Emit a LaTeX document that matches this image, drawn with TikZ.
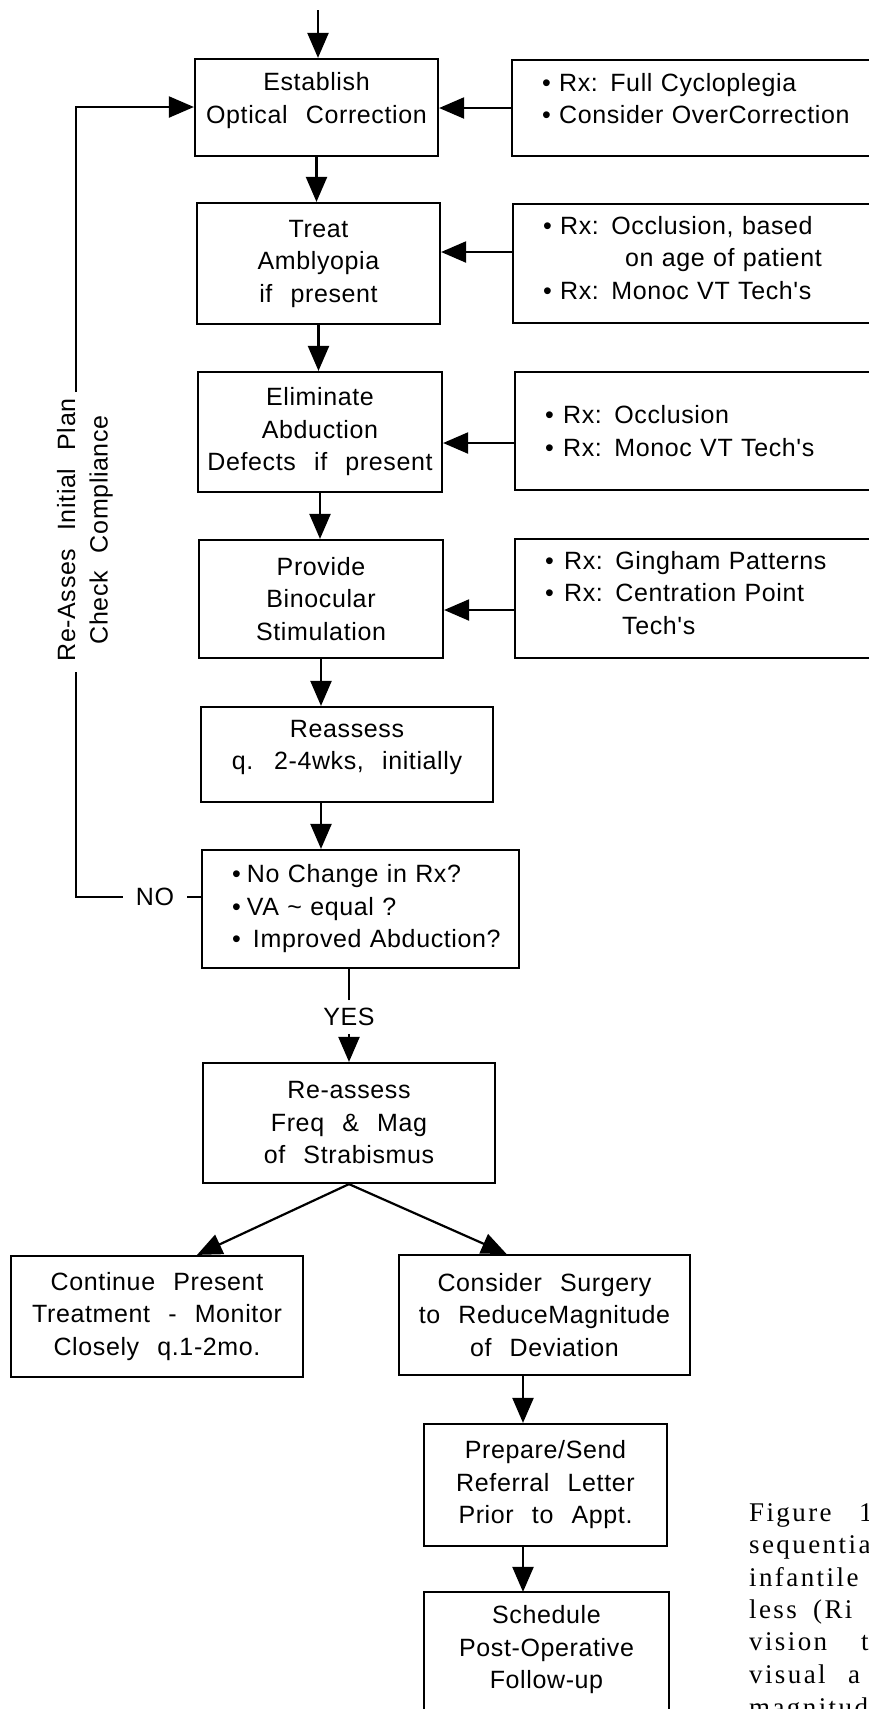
\documentclass[tikz,border=0pt]{standalone}
\usepackage{fontspec}
\usetikzlibrary{arrows.meta,calc}
\newfontfamily\boxfont[LetterSpace=2.5,WordSpace=2.4]{Liberation Sans}
\newfontfamily\capfont[LetterSpace=9]{Liberation Serif}
\newcommand{\bl}[1]{\makebox[#1][l]{•}}
\begin{document}
\begin{tikzpicture}[x=1pt,y=-1pt,line width=2.2pt,
  arr/.style={-{Triangle[length=25pt,width=21pt]}},
  bfont/.style={font=\boxfont\fontsize{25}{32.5}\selectfont},
  box/.style={draw,bfont,inner sep=0pt,align=center},
  liftby/.style={text depth=#1},
  rbox/.style={draw,bfont,inner sep=0pt,align=left,text width=420pt,anchor=west},
  lbl/.style={bfont,inner sep=0pt},
  captext/.style={font=\capfont\fontsize{27}{32}\selectfont,inner sep=0pt,anchor=base west}]
\fill[white] (0,0) rectangle (869,1709);
\useasboundingbox (0,0) rectangle (869,1709);

% main column
\node[box,liftby=19pt,minimum width=243pt,minimum height=97pt] (est) at (316.5,107.5) {Establish\\Optical Correction};
\node[box,minimum width=243pt,minimum height=121pt] (treat) at (318.5,263.5) {Treat\\Amblyopia\\if present};
\node[box,minimum width=244pt,minimum height=120pt] (elim) at (320,432) {Eliminate\\Abduction\\Defects if present};
\node[box,minimum width=244pt,minimum height=118pt] (prov) at (321,599) {Provide\\Binocular\\Stimulation};
\node[box,liftby=19pt,minimum width=292pt,minimum height=95pt] (reas) at (347,754.5) {Reassess\\q. 2-4wks, initially};
\node[draw,bfont,inner sep=0pt,align=left,text width=317pt,minimum height=118pt] (dec) at (360.5,909)
  {\hspace*{30pt}\bl{15pt}No Change in Rx?\\\hspace*{30pt}\bl{15pt}VA \textasciitilde{} equal ?\\\hspace*{30pt}\bl{21pt}Improved Abduction?};
\node[box,minimum width=292pt,minimum height=120pt] (reas2) at (349,1123) {Re-assess\\Freq \& Mag\\of Strabismus};
\node[box,minimum width=292pt,minimum height=121pt] (cont) at (157,1316.5) {Continue Present\\Treatment - Monitor\\Closely q.1-2mo.};
\node[box,minimum width=291pt,minimum height=120pt] (surg) at (544.5,1315) {Consider Surgery\\to ReduceMagnitude\\of Deviation};
\node[box,minimum width=243pt,minimum height=122pt] (prep) at (545.5,1485) {Prepare/Send\\Referral Letter\\Prior to Appt.};
\node[bfont,inner sep=0pt,align=center,minimum width=243pt,minimum height=114pt] (sched) at (546.5,1650) {Schedule\\Post-Operative\\Follow-up};
\draw (sched.north west) ++(0,140) -- (sched.north west) -- (sched.north east) -- ++(0,140);

% right boxes
\node[rbox,liftby=51.5pt,minimum height=96pt] (rx1) at (511,108)
  {\hspace*{30pt}\bl{17pt}Rx: Full Cycloplegia\\\hspace*{30pt}\bl{17pt}Consider OverCorrection};
\node[rbox,liftby=77pt,minimum height=119pt] (rx2) at (512,263.5)
  {\hspace*{30pt}\bl{17pt}Rx: Occlusion, based\\\hspace*{112pt}on age of patient\\\hspace*{30pt}\bl{17pt}Rx: Monoc VT Tech's};
\node[rbox,minimum height=118pt] (rx3) at (514,431)
  {\hspace*{30pt}\bl{18pt}Rx: Occlusion\\\hspace*{30pt}\bl{18pt}Rx: Monoc VT Tech's};
\node[rbox,liftby=77pt,minimum height=119pt] (rx4) at (514,598.5)
  {\hspace*{30pt}\bl{19pt}Rx: Gingham Patterns\\\hspace*{30pt}\bl{19pt}Rx: Centration Point\\\hspace*{107pt}Tech's};

% vertical flow arrows
\coordinate (entry) at (318,10);
\draw[arr] (entry) -- (entry |- est.north);
\draw[arr] (est.south) -- (est.south |- treat.north);
\draw[arr] (treat.south) -- (treat.south |- elim.north);
\draw[arr] (elim.south) -- (elim.south |- prov.north);
\draw[arr] (prov.south) -- (prov.south |- reas.north);
\draw[arr] (reas.south -| prov.south) -- (prov.south |- dec.north);

% right box arrows
\draw[arr] (rx1.west) -- (rx1.west -| est.east);
\coordinate (h2) at (512,252);
\draw[arr] (h2) -- (h2 -| treat.east);
\coordinate (h3) at (514,443);
\draw[arr] (h3) -- (h3 -| elim.east);
\coordinate (h4) at (514,610);
\draw[arr] (h4) -- (h4 -| prov.east);

% YES branch
\node[lbl,inner sep=7pt] (yes) at (349,1017) {YES};
\draw (reas2.north |- dec.south) -- (yes.north);
\draw[arr] (yes.south) -- (reas2.north);
\draw[arr] (reas2.south) -- ($(cont.north)+(40,0)$);
\draw[arr] (reas2.south) -- ($(surg.north)+(-38,0)$);
\coordinate (colB) at (523,0);
\draw[arr] (surg.south -| colB) -- (colB |- prep.north);
\draw[arr] (prep.south -| colB) -- (colB |- sched.north);

% NO feedback loop
\node[lbl,inner xsep=12pt] (no) at (155,897) {NO};
\draw (no.east) -- (dec.west |- no);
\coordinate (fbCorner) at (76,897);
\coordinate (fbBot) at (76,672);
\coordinate (fbTop) at (76,392);
\coordinate (fbEnd) at (76,107);
\draw (no.west) -- (fbCorner) -- (fbBot);
\node[bfont,rotate=90,align=center,inner sep=0pt] (fbtext) at (85,530) {Re-Asses Initial Plan\\Check Compliance};
\draw[arr] (fbTop) -- (fbEnd) -- (fbEnd -| est.west);

% caption (cut off at the page edge, as in the reference)
\node[captext] (c1) at (748,1521) {Figure};
\node[captext] (c1b) at (858,1521) {1};
\node[captext] (c2) at (748,1553) {sequentia};
\node[captext] (c3) at (748,1586) {infantile};
\node[captext] (c4) at (748,1618) {less};
\node[captext] (c4b) at (812,1618) {(Ri};
\node[captext] (c5) at (748,1650) {vision};
\node[captext] (c5b) at (860,1650) {t};
\node[captext] (c6) at (748,1683) {visual};
\node[captext] (c6b) at (847,1683) {a};
\node[captext] (c7) at (748,1716) {magnitud};
\end{tikzpicture}
\end{document}
